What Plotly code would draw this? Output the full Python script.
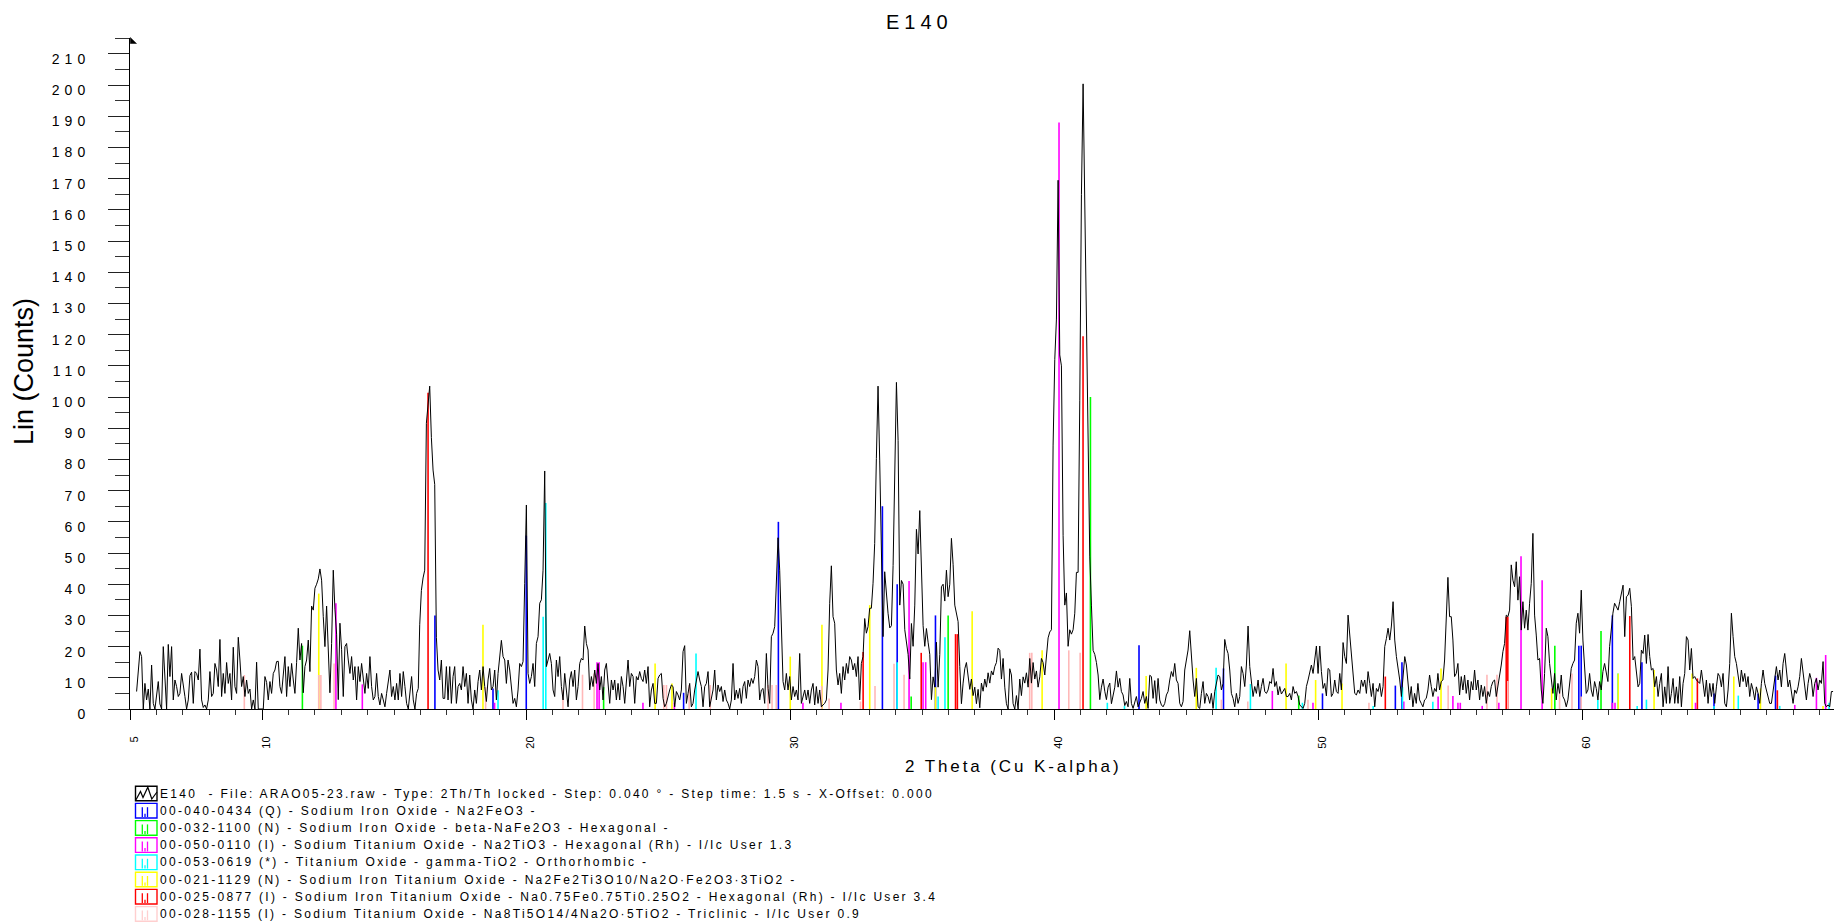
import numpy as np
import plotly.graph_objects as go

# ---------------- scan data (2Theta, counts) ----------------
STEP = 5 / 79.2  # degrees between read points

seg_starts = [5.25, 15.974, 24.307, 33.779, 42.49, 53.469, 61.303]

counts_a = [5.6, 12.5, 18.4, 16.8, 0, 8.2, 2.9, 6.4, 0, 14.1,
            1.8, 0, 5.0, 8.8, 1.6, 0, 20, 9.3, 0, 20.7,
            10.4, 20, 2.9, 9.3, 7.2, 4, 5, 11.4, 8.2, 4,
            0, 2.9, 10.7, 11.8, 1.8, 12, 11.4, 9.3, 19.2, 2.9,
            0.5, 1.3, 0, 2.9, 12, 4, 5, 14.6, 12.5, 7.2,
            22.3, 4, 11.4, 5, 14.9, 8.2, 11.4, 2.9, 19.8, 7.2,
            5, 23, 15.7, 7.2, 10.4, 4, 9.3, 5, 6.4, 0,
            2.9, 0, 15, 0, 0, 0, 0, 10.4, 8.5, 2.9,
            8.8, 5, 11.4, 12.5, 15.2, 15.3, 7.2, 5, 12.5, 16.8,
            4, 13.6, 7.2, 14.6, 9.3, 5, 14.9, 25.9, 15.7, 21,
            5.2, 13.6, 15.7, 22.1, 12, 33, 31.7, 38.7, 40, 41.7,
            44.9, 41.3, 29.6, 20, 33, 19, 5.2, 21, 44.5, 32,
            24, 3, 27.5, 19, 4, 20, 21, 15.7, 11.4, 16.8,
            9.3, 13.6, 2.9, 13.6, 8.8, 14.6, 9.3, 5, 11.4, 6.6,
            16.8, 7.2, 2.9, 4, 11.4, 4, 1.3, 5, 2.9, 0.7,
            5, 9.3, 12.5, 4, 7.2, 2.9, 8.2, 2.9, 11.4, 4,
            12, 7.2, 1.8, 0, 5, 10.4, 2.9, 0, 5, 6.6]

counts_b = [27, 38, 42, 44.5, 91.6, 98, 103.5, 87, 76.6, 72,
            23, 12.5, 9.3, 15.7, 3.4, 3.4, 13.6, 2.9, 13.6, 1.8,
            10.4, 13.6, 1.8, 7.2, 8.2, 6.1, 13.6, 7.2, 11.4, 1.8,
            10.9, 2.9, 0, 6.1, 1.8, 8.8, 12.5, 6.1, 13.6, 7.2,
            2.4, 9.3, 13, 6.1, 7.2, 12.5, 2.9, 11.4, 16.8, 22,
            16.8, 15.7, 8.2, 15.7, 12.5, 6.1, 1.8, 3.4, 0.7, 6.1,
            14.6, 13.6, 15.2, 40.3, 65.4, 11.4, 8.2, 10.4, 14.6, 7.2,
            21, 23.2, 33.9, 35, 44.5, 76.3, 13.6, 15.7, 17.8, 14.6,
            6.1, 4, 15.7, 10.4, 16.8, 7.2, 2.9, 11.4, 6.1, 0.7,
            9.3, 12, 7.2, 12.5, 2.9, 7.2, 14.6, 16.2, 15.7, 26.6,
            21, 18.9, 6.1, 10.4, 7.2, 12.5, 8.2, 14.6, 6.1, 10.4,
            2.9, 12.5, 14.6, 7.2, 1.8, 9.3, 6.1, 9.3, 2.9, 8.2,
            2.9, 10.4, 7.2, 1.8, 10.4, 15.7, 7.2, 11.4, 10.4, 1.8,
            10.4, 9.3]

counts_c = [12, 9.8, 8.8, 12.5, 8.2, 13.6, 0.7, 6.1, 8.2, 1.8,
            1.8, 9.8, 10.9, 11.4, 3.4, 0.7, 1.8, 4.5, 6.1, 7.7,
            7.2, 0.7, 5.6, 4.5, 2.9, 6.1, 18.4, 20.3, 1.8, 5,
            8.2, 0.7, 1.8, 6.1, 9.3, 12, 9.3, 7.2, 0.7, 7.2,
            8.2, 12, 0.7, 2.9, 6.1, 12.5, 2.9, 7.7, 5.6, 7.2,
            2.4, 6.1, 2.9, 1.8, 0, 2.9, 14.6, 2.9, 6.1, 3.4,
            6.6, 1.8, 7.2, 8.8, 3.4, 9.3, 7.2, 9.8, 8.2, 10.4,
            15.7, 13.6, 2.9, 6.1, 6.6, 1.8, 17.8, 6.6, 1.8, 23.2,
            24.3, 26.4, 44.5, 54.9, 44.5, 26.4, 8.8, 6.1, 11.4, 6.1,
            10.4, 2.9, 7.2, 4, 6.1, 2.9, 17.8, 1.8, 4, 6.1,
            2.9, 6.1, 1.8, 6.1, 8.2, 1.3, 7.2, 1.8, 6.1, 0.7,
            1.3, 1.8, 2.9, 12.5, 33.9, 45.9, 29.6, 27.5, 12.5, 7.7,
            11.4, 5, 13.6, 9.3, 14.6, 11.4, 16.8, 15.7, 12.5, 14.6,
            10.4, 16.8, 2.9, 14.6, 16.8, 29, 24.3, 26.4, 32.3, 32.3,
            40.3, 53.1, 80.3, 103.5, 79.8, 55.2, 23.2, 44, 36, 30.7]

counts_d = [26, 26.7, 46, 72.8, 104.7, 86, 33.3, 41.2, 40, 25.4,
            21.4, 17.5, 9.6, 27.4, 20.1, 33.3, 57.6, 49.7, 63.6, 42.5,
            26.7, 20.1, 25.8, 21.4, 17.5, 3, 10.3, 7, 21.4, 7,
            17.5, 39.2, 40, 34.6, 44.5, 36, 40, 54.7, 46.4, 33.3,
            30.7, 28, 13.6, 1.7, 8.3, 12.9, 14.9, 10.9, 6.3, 9.6,
            4.3, 7, 1.7, 6.3, 0.4, 8.3, 5.7, 9.6, 7, 11.6,
            8.3, 12.2, 10.9, 13.6, 14.9, 19.5, 18.8, 9.6, 16.2, 7,
            1.7, 0, 12.9, 10.9, 1.7, 0, 4.3, 0, 9.6, 4.3,
            10.3, 8.3, 11.6, 7, 16.2, 8.3, 14.9, 9.6, 12.2, 7,
            10.3, 16.2, 14.9, 10.9, 16.2, 22.8, 24.7, 25.4, 84.6, 112,
            125, 169.5, 113.5, 110, 55.7, 33.3, 37.2, 20.1, 25.4, 24,
            25.4, 30.7, 43.8, 43.8, 99, 165, 200.4, 159, 125, 86,
            49, 33.3, 18.8, 17.5, 14.9, 10.9, 3, 7, 9.6, 5.7,
            3, 7, 8.3, 1.7, 4.3, 7, 12.2, 7]

counts_e = [9.8, 5.6, 4.5, 1.1, 2.4, 0.7, 9.8, 1.8, 0.2, 2.4,
            4, 0.7, 1.8, 3.4, 5.6, 1.8, 4, 0.2, 10.8, 10.4,
            3.4, 9.1, 1.8, 9.8, 2.9, 1.3, 0.7, 1.8, 4.5, 5.6,
            9.3, 12, 10.4, 14.6, 9.3, 8.2, 1.8, 0.7, 2.4, 12.5,
            15.7, 18.9, 25.1, 15.7, 9.3, 4, 9.8, 0.7, 0.2, 5,
            8.8, 1.8, 5, 4, 1.8, 5, 0.2, 5.6, 8.2, 10.9,
            10.4, 6.1, 8.2, 22.3, 19.4, 17.8, 12.5, 5, 3.4, 0.7,
            5, 1.8, 4, 13.6, 11.4, 7.2, 14.1, 26.6, 13.6, 9.3,
            4, 7.2, 5, 9.3, 4, 7.2, 9.8, 5.6, 5, 6.1,
            8.8, 8.2, 13, 7.2, 8.8, 4.5, 7.2, 4.8, 5.6, 6.6,
            4, 4, 5, 2.9, 7.2, 5, 5.6, 4, 1.3, 0.7,
            0.2, 1.8, 7.2, 9.3, 11.4, 14.1, 11.4, 16.8, 20.2, 11.4,
            20.2, 12, 6.6, 8.2, 4.2, 13, 12.5, 4, 5, 9.3,
            5.6, 5, 11.4, 6.1, 21.3, 16.8, 14.6, 30.1, 23.7, 17.3,
            9.3, 5, 4.5, 6.1, 5, 9.3, 7.2, 9.3, 5, 12,
            8.2, 4, 8.2, 0.7, 6.6, 5.6, 8.2, 4, 7.2, 20,
            22.6, 25.9, 22.1, 26.6, 34.4, 22.1, 16.8, 13.6, 9.3, 4,
            11.4, 16.8, 14.1, 7.2]

counts_f = [2.9, 7.2, 0.7, 5, 1.8, 8.2, 2.9, 1.8, 0.7, 2.9,
            3.4, 6.1, 10.9, 7.2, 4, 6.6, 5.6, 11.4, 6.1, 8.8,
            9.3, 15.7, 27.5, 42.2, 29.6, 29.6, 22.1, 10.4, 11.4, 14.6,
            4.5, 10.4, 6.1, 10.9, 5, 9.3, 2.9, 8.8, 6.1, 12.5,
            6.1, 9.3, 2.9, 7.7, 4, 7.2, 1.8, 5.6, 4, 7.2,
            8.8, 9.3, 4, 7.2, 10.4, 14.1, 18.4, 21, 30.1, 29.6,
            31.7, 46.2, 41.3, 39.2, 47.2, 34.9, 42.4, 25.3, 34.4, 25.9,
            31.7, 25.3, 33.9, 40.3, 56.3, 30.1, 23.7, 15.7, 16.2, 6.1,
            1.8, 11.4, 25.9, 23.2, 14.6, 8.8, 5, 11.4, 2.9, 8.2,
            5, 10.9, 4, 2.9, 0.7, 2.9, 7.2, 13, 14.6, 15.7,
            27.5, 30.7, 24.3, 38.1, 22.1, 11.4, 5, 6.1, 11.4, 6.1,
            4, 8.8, 6.6, 2.9, 8.8, 6.1, 12, 14.6, 11.4, 8.8,
            20, 25.9, 30.7, 33.9]

counts_g = [32.8, 31.7, 34.4, 37.1, 39.7, 23.2, 36, 36.5, 38.7, 32.8,
            15.7, 16.8, 11.4, 7.1, 8.2, 18.9, 17.8, 23.7, 14.6, 23.9,
            16.8, 12.5, 13, 7.1, 10.4, 4, 8.2, 11.4, 0.7, 7.1,
            1.8, 13.6, 1.8, 5, 9.8, 1.8, 7.1, 1.8, 10.4, 0.7,
            8.2, 11.4, 23.2, 22.1, 12.5, 19.4, 9.8, 10.4, 9.3, 8.8,
            8.2, 12.5, 7.1, 4, 9.3, 1.8, 8.2, 4, 8.2, 1.8,
            7.1, 11.4, 10.4, 7.1, 11.4, 1.8, 0.7, 6.1, 14.6, 30.7,
            23.2, 16.8, 14.6, 10.4, 7.1, 12.5, 8.8, 11.4, 7.1, 10.4,
            4, 8.2, 6.1, 2.9, 7.1, 5, 1.8, 8.2, 12.5, 8.2,
            6.1, 4, 1.8, 1.8, 6.1, 10.4, 13.6, 9.3, 12.5, 7.1,
            14.6, 17.8, 11.4, 7.1, 9.3, 5, 1.8, 6.1, 5, 7.1,
            10.4, 16.2, 11.4, 6.1, 2.9, 8.2, 11.4, 9.3, 4, 8.2,
            9.8, 6.1, 9.3, 8.2, 15.2, 1.8, 0.7, 1.3, 0.7, 5.6, 5.6]

segments = [counts_a, counts_b, counts_c, counts_d, counts_e, counts_f, counts_g]

# ---------------- reference patterns (2Theta, intensity) ----------------
blue_pos = [16.55, 18.75, 20.01, 25.97, 29.56, 33.50, 34.06, 35.51, 43.22, 46.42,
            50.17, 52.93, 53.18, 59.88, 59.97, 61.15, 62.27, 65.0, 66.67, 67.33]
blue_int = [30, 6.6, 55.6, 5.2, 60, 65, 40, 30, 20.4, 13,
            5, 7.5, 15, 20.3, 20.3, 30, 15, 5, 5, 10.7]

green_pos = [11.53, 22.94, 34.59, 35.99, 41.38, 49.27, 58.97, 60.72]
green_int = [20.3, 7, 4, 30, 100, 4.3, 20.3, 25]

magenta_pos = [12.80, 13.80, 18.81, 22.69, 22.77, 24.43, 25.62, 30.49, 31.93, 34.51,
               35.04, 35.14, 40.19, 48.27, 49.81, 53.25, 54.55, 55.11, 55.30, 55.39,
               56.22, 56.85, 57.69, 58.49, 61.15, 61.25, 64.30, 68.06, 68.88, 69.23]
magenta_int = [33.9, 7.9, 2, 15, 15, 2, 2, 2, 2, 41,
               15, 15, 188, 5.8, 2, 2.4, 4, 4.2, 2, 2,
               1, 2, 49, 41.3, 2, 2, 2, 1.3, 10, 17.3]

cyan_pos = [18.94, 20.65, 20.75, 26.44, 34.06, 35.61, 35.87, 42.02, 42.67, 46.14,
            47.44, 49.41, 52.09, 53.20, 54.35, 60.60, 61.36, 62.09, 62.44, 65.0,
            65.92, 67.49, 69.36]
cyan_int = [6, 29.6, 66, 17.8, 15, 4, 23, 2, 1, 13.2,
            8, 2, 1, 7, 2.3, 3, 11.4, 1, 3, 1,
            4.3, 1, 2]

yellow_pos = [12.15, 18.37, 24.89, 25.53, 30.01, 31.21, 33.02, 35.51, 36.90, 39.55,
              43.49, 45.39, 48.79, 49.91, 50.91, 54.66, 58.85, 61.37, 62.73, 64.17,
              65.75, 66.76, 69.13]
yellow_int = [37, 27, 14.6, 8.2, 16.8, 27, 33.3, 7, 31.3, 18.8,
              10.6, 13.2, 14.6, 9.3, 8.2, 13, 6.6, 11.4, 12.5, 11.4,
              10.4, 6.6, 1]

red_pos = [16.29, 32.77, 34.97, 36.27, 36.34, 41.10, 52.55, 57.13, 57.19, 61.81,
           64.37, 67.40]
red_int = [101.4, 18.3, 18, 24, 24, 119.5, 10.4, 29.6, 29.6, 29.8,
           9.8, 6]

pink_pos = [9.33, 12.15, 12.23, 12.73, 18.47, 21.40, 22.14, 22.58, 25.22, 25.32,
            26.18, 26.98, 29.17, 29.32, 29.48, 31.20, 31.48, 32.67, 33.22, 33.94,
            34.32, 39.08, 39.16, 40.56, 40.99, 46.34, 47.34, 49.62, 51.93, 54.93,
            56.40, 56.78, 57.19, 59.15, 59.62, 59.97]
pink_int = [10.9, 10.9, 10.9, 14.6, 7, 6, 11, 11.4, 7.7, 7.7,
            7.7, 7.7, 7.7, 7.7, 7.7, 7.4, 3.4, 2.4, 7.4, 14.5,
            11, 18, 18, 18.8, 18, 3, 2.4, 3, 2, 7.5,
            11, 11, 9, 5.6, 11.4, 4]

pattern_colors = ["#0000FF", "#00FF00", "#FF00FF", "#00FFFF", "#FFFF00", "#FF0000", "#FFB8B8"]
patterns = [(blue_pos, blue_int), (green_pos, green_int), (magenta_pos, magenta_int),
            (cyan_pos, cyan_int), (yellow_pos, yellow_int), (red_pos, red_int),
            (pink_pos, pink_int)]

x_tick_vals = [5, 10, 20, 30, 40, 50, 60]
y_tick_vals = list(range(0, 211, 10))

legend_texts = [
    "E140  - File: ARAO05-23.raw - Type: 2Th/Th locked - Step: 0.040 ° - Step time: 1.5 s - X-Offset: 0.000",
    "00-040-0434 (Q) - Sodium Iron Oxide - Na2FeO3 - ",
    "00-032-1100 (N) - Sodium Iron Oxide - beta-NaFe2O3 - Hexagonal - ",
    "00-050-0110 (I) - Sodium Titanium Oxide - Na2TiO3 - Hexagonal (Rh) - I/Ic User 1.3",
    "00-053-0619 (*) - Titanium Oxide - gamma-TiO2 - Orthorhombic - ",
    "00-021-1129 (N) - Sodium Iron Titanium Oxide - Na2Fe2Ti3O10/Na2O·Fe2O3·3TiO2 - ",
    "00-025-0877 (I) - Sodium Iron Titanium Oxide - Na0.75Fe0.75Ti0.25O2 - Hexagonal (Rh) - I/Ic User 3.4",
    "00-028-1155 (I) - Sodium Titanium Oxide - Na8Ti5O14/4Na2O·5TiO2 - Triclinic - I/Ic User 0.9",
]

# ---------------- geometry ----------------
W, H = 1834, 924
PL, PT, PW, PH = 130, 38, 1704, 671
PX_PER_DEG = 26.4
X_RANGE = [5, 5 + PW / PX_PER_DEG]
Y_RANGE = [0, 215.1]
FONT = "Liberation Sans, Arial, Helvetica, sans-serif"


def fx(px):
    return (px - PL) / PW


def fy(py):
    return (PT + PH - py) / PH


def spaced(s, sp):
    """letter-spaced text without trailing space after last glyph"""
    if len(s) <= 1:
        return s
    return f"<span style='letter-spacing:{sp}px'>{s[:-1]}</span>{s[-1]}"


fig = go.Figure()

# stick patterns
for (pos, inten), col in zip(patterns, pattern_colors):
    xs, ys = [], []
    for p, h in zip(pos, inten):
        xs += [p, p, None]
        ys += [0, h, None]
    fig.add_trace(go.Scatter(x=xs, y=ys, mode="lines",
                             line=dict(color=col, width=1.6),
                             hoverinfo="skip", showlegend=False))

# scan
x_scan = np.concatenate([s + STEP * np.arange(len(c)) for s, c in zip(seg_starts, segments)])
y_scan = np.concatenate([np.asarray(c, dtype=float) for c in segments])
fig.add_trace(go.Scatter(x=x_scan, y=y_scan, mode="lines",
                         line=dict(color="black", width=1.0),
                         hoverinfo="skip", showlegend=False))

shapes = []
annotations = []

# y-axis arrow head
shapes.append(dict(type="path", xref="paper", yref="paper",
                   path=f"M {fx(130.3)} {fy(37.5)} L {fx(136.5)} {fy(43.5)} L {fx(130.3)} {fy(43.5)} Z",
                   fillcolor="black", line=dict(color="black", width=0.5)))

# legend
row0 = 793.5
row_h = 17.2
legend_colors = ["#000000"] + pattern_colors
for k, (txt, col) in enumerate(zip(legend_texts, legend_colors)):
    yc = row0 + row_h * k
    box_col = col if k != 7 else "#FFCFCF"
    shapes.append(dict(type="rect", xref="paper", yref="paper",
                       x0=fx(135.5), x1=fx(157), y0=fy(yc - 7.3), y1=fy(yc + 7.3),
                       line=dict(color=box_col, width=1.4)))
    if k == 0:
        pts = [(136, yc + 6.3), (140.5, yc - 2), (143, yc + 4), (147.8, yc - 6.3),
               (151.8, yc + 5.5), (157, yc - 1.5)]
        path = "M " + " L ".join(f"{fx(a)} {fy(b)}" for a, b in pts)
        shapes.append(dict(type="path", xref="paper", yref="paper", path=path,
                           line=dict(color="black", width=1.2)))
    else:
        for sx, top in [(142.3, yc - 3.5), (145, yc + 3), (147.5, yc - 3.5)]:
            shapes.append(dict(type="line", xref="paper", yref="paper",
                               x0=fx(sx), x1=fx(sx), y0=fy(yc + 6.3), y1=fy(top),
                               line=dict(color=box_col, width=1.3)))
    annotations.append(dict(text=spaced(txt, 2.3), xref="paper", yref="paper",
                            x=fx(157.5), y=fy(yc), xanchor="left", yanchor="middle",
                            showarrow=False, font=dict(family=FONT, size=12, color="black")))

# titles
annotations.append(dict(text=spaced("E140", 5), xref="paper", yref="paper", x=fx(917), y=fy(22),
                        xanchor="center", yanchor="middle", showarrow=False,
                        font=dict(family=FONT, size=20, color="black")))
annotations.append(dict(text=spaced("2 Theta (Cu K-alpha)", 2.9), xref="paper", yref="paper",
                        x=fx(1012), y=fy(767), xanchor="center", yanchor="middle",
                        showarrow=False, font=dict(family=FONT, size=17, color="black")))
annotations.append(dict(text="Lin (Counts)", xref="paper", yref="paper",
                        x=fx(24), y=fy(372), xanchor="center", yanchor="middle",
                        textangle=-90, showarrow=False,
                        font=dict(family=FONT, size=27, color="black")))

fig.update_layout(
    width=W, height=H,
    margin=dict(l=PL, r=W - PL - PW, t=PT, b=H - PT - PH, pad=0, autoexpand=False),
    paper_bgcolor="white", plot_bgcolor="white",
    showlegend=False, hovermode=False,
    font=dict(family=FONT, color="black"),
    shapes=shapes, annotations=annotations,
    xaxis=dict(range=X_RANGE, showline=True, linecolor="black", linewidth=1,
               showgrid=False, zeroline=False, ticks="outside", tickmode="array",
               tickvals=x_tick_vals, ticktext=[str(v) for v in x_tick_vals],
               ticklen=10, tickwidth=1, tickcolor="black",
               tickangle=-90, tickfont=dict(family=FONT, size=11, color="black"),
               ticklabelstandoff=12, ticklabelshift=4,
               minor=dict(dtick=1, tick0=5, ticklen=5, tickwidth=1, tickcolor="#333333",
                          ticks="outside", showgrid=False)),
    yaxis=dict(range=Y_RANGE, showline=True, linecolor="black", linewidth=1,
               showgrid=False, zeroline=False, ticks="outside", tickmode="array",
               tickvals=y_tick_vals, ticktext=[spaced(str(v), 5) for v in y_tick_vals],
               ticklen=21, tickwidth=1, tickcolor="#222222",
               tickfont=dict(family=FONT, size=14, color="black"),
               ticklabelstandoff=20, ticklabelshift=5,
               minor=dict(dtick=5, tick0=0, ticklen=14, tickwidth=1, tickcolor="#333333",
                          ticks="outside", showgrid=False)),
)

fig.write_html("out.html", config={"displayModeBar": False, "staticPlot": True},
               post_script="document.body.style.margin='0px';")
